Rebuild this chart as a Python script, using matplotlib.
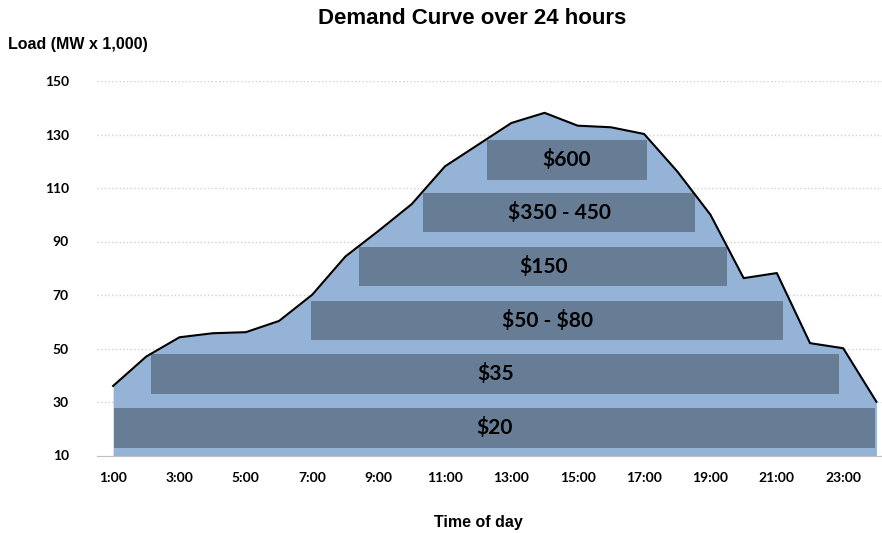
import matplotlib
matplotlib.use("Agg")
from matplotlib import pyplot as plt

# hourly load, 1:00 .. 24:00
hours = list(range(1, 25))
load = [36, 47, 54.2, 55.7, 56.1, 60.3, 70.1, 84.4, 94, 104, 118.1, 126.2,
        134.3, 138.1, 133.3, 132.7, 130.2, 116.2, 100, 76.3, 78.2, 52, 50.1, 30.1]

# price tiers (blocks drawn over the curve)
tier_labels = ["$20", "$35", "$50 - $80", "$150", "$350 - 450", "$600"]
tier_start = [1.04, 2.15, 6.97, 8.42, 10.35, 12.27]
tier_end = [23.95, 22.88, 21.18, 19.49, 18.54, 17.08]
tier_low = [12.9, 33.1, 53.0, 73.2, 93.4, 113.1]
tier_high = [27.8, 48.0, 67.8, 88.0, 108.2, 128.1]

tick_hours = list(range(1, 24, 2))
tick_labels = [str(h) + ":00" for h in tick_hours]
yticks = list(range(10, 151, 20))

fig = plt.figure(figsize=(8.82, 5.33), dpi=100)
ax = fig.add_axes([96.5 / 882, 77.5 / 533, (893 - 96.5) / 882, (455.5 - 81) / 533])

ax.fill_between(hours, load, 10, color="#95b3d7", linewidth=0, zorder=2)
ax.plot(hours, load, color="black", linewidth=1.5, zorder=4)

for lab, x0, x1, lo, hi in zip(tier_labels, tier_start, tier_end, tier_low, tier_high):
    ax.bar(x0, hi - lo, width=x1 - x0, bottom=lo, align="edge",
           color="#677c95", linewidth=0, zorder=3)
    ax.text((x0 + x1) / 2, (lo + hi) / 2, lab, ha="center", va="center",
            fontsize=15, fontweight="bold", family="Lato", color="black",
            zorder=5, parse_math=False)

ax.set_xlim(0.5, 24.5)
ax.set_ylim(10, 150)
ax.set_yticks(yticks)
ax.set_yticklabels([str(v) for v in yticks], fontsize=10, fontweight="bold", family="Lato")
ax.set_xticks(tick_hours)
ax.set_xticklabels(tick_labels, fontsize=10, fontweight="bold", family="Lato")
ax.tick_params(length=0, pad=12)
ax.tick_params(axis="y", pad=20)

ax.grid(axis="y", color="#d0d0d0", linestyle=":", linewidth=1, zorder=0)
ax.set_axisbelow(True)
for s in ["top", "right", "left"]:
    ax.spines[s].set_visible(False)
ax.spines["bottom"].set_color("#bfbfbf")

fig.text(472 / 882, 1 - 18 / 533, "Demand Curve over 24 hours", ha="center", va="center",
         fontsize=16, fontweight="bold", family="Liberation Sans")
fig.text(8 / 882, 1 - 45 / 533, "Load (MW x 1,000)", ha="left", va="center",
         fontsize=11.5, fontweight="bold", family="Liberation Sans")
fig.text(478 / 882, 1 - 522 / 533, "Time of day", ha="center", va="center",
         fontsize=11.5, fontweight="bold", family="Liberation Sans")

plt.savefig("out.png", dpi=100)
